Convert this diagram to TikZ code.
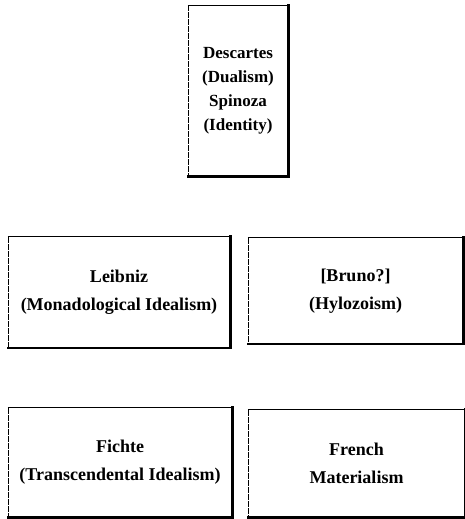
\documentclass[tikz,border=0pt]{standalone}
\usepackage{fontspec}
\setmainfont{Liberation Serif}
\usetikzlibrary{positioning}

\begin{document}
\begin{tikzpicture}[x=1pt, y=1pt,
  school/.style={align=center, inner sep=0pt,
                 font=\fontsize{18}{28}\selectfont\bfseries},
  heavy/.style={line width=2.6pt, line cap=rect},
  rim/.style={line width=1.2pt},
  faint/.style={line width=0.6pt, dash pattern=on 6pt off 1pt}]
\useasboundingbox (0,0) rectangle (465,519);
% the five schools
\node[school, minimum width=100pt, minimum height=171pt,
      font=\fontsize{17}{24}\selectfont\bfseries] (monism) at (238,428)
      {Descartes\\(Dualism)\\Spinoza\\(Identity)};
\node[school, minimum width=222pt, minimum height=111pt] (leibniz) at (119,226.5)
      {Leibniz\\(Monadological Idealism)};
\node[school, minimum width=215pt, minimum height=106pt] (bruno) at (355.5,228)
      {[Bruno?]\\(Hylozoism)};
\node[school, minimum width=224pt, minimum height=109pt] (fichte) at (120,56.5)
      {Fichte\\(Transcendental Idealism)};
\node[school, minimum width=217pt, minimum height=107pt] (french) at (356.5,55.5)
      {French\\Materialism};
% frames: faint left, firm top, heavy right and bottom
\foreach \n in {monism,leibniz,bruno,fichte,french}{
  \draw[faint] (\n.north west) -- (\n.south west);
  \draw[rim] (\n.north west) -- (\n.north east);
  \draw[heavy] (\n.north east) -- (\n.south east) -- (\n.south west);
}
\end{tikzpicture}
\end{document}
